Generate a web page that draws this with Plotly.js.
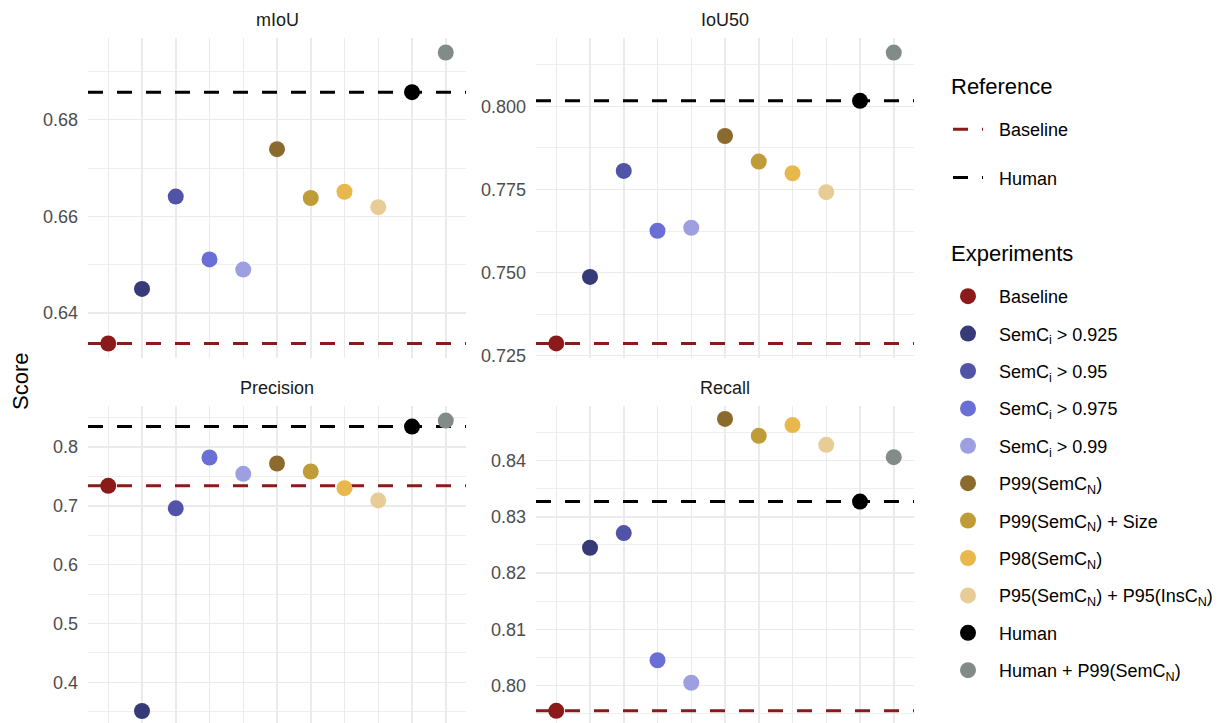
<!DOCTYPE html>
<html><head><meta charset="utf-8">
<script src="https://cdn.plot.ly/plotly-3.0.1.min.js"></script>
<style>html,body{margin:0;padding:0;background:#fff}</style>
</head><body><div id="chart" style="width:1225px;height:723px"></div>
<script>
const experiments = [
  "Baseline",
  "SemC<sub>i</sub> > 0.925",
  "SemC<sub>i</sub> > 0.95",
  "SemC<sub>i</sub> > 0.975",
  "SemC<sub>i</sub> > 0.99",
  "P99(SemC<sub>N</sub>)",
  "P99(SemC<sub>N</sub>) + Size",
  "P98(SemC<sub>N</sub>)",
  "P95(SemC<sub>N</sub>) + P95(InsC<sub>N</sub>)",
  "Human",
  "Human + P99(SemC<sub>N</sub>)"
];
const colors = ["#8b1a1a","#363a78","#5053a6","#6a6fd6","#9d9fe0","#8b6a2e","#c09c38","#e9b84c","#e8cc96","#000000","#838b88"];
const metrics = ["mIoU","IoU50","Precision","Recall"];
const mIoU      = [0.6337,0.6450,0.6641,0.6511,0.6490,0.6739,0.6638,0.6651,0.6619,0.6857,0.6939];
const IoU50     = [0.7287,0.7487,0.7806,0.7626,0.7635,0.7911,0.7834,0.7799,0.7742,0.8017,0.8162];
const Precision = [0.7338,0.3513,0.6956,0.7820,0.7542,0.7718,0.7582,0.7299,0.7090,0.8346,0.8448];
const Recall    = [0.7955,0.8245,0.8271,0.8045,0.8005,0.8474,0.8444,0.8463,0.8428,0.8327,0.8406];
const refNames  = ["Baseline","Human"];
const refColors = ["#8b1a1a","#000000"];
const refBaseline = [0.6337,0.7287,0.7338,0.7955];
const refHuman    = [0.6857,0.8017,0.8346,0.8327];
const tickFormats = [".2f",".3f",".1f",".2f"];
const dticks = [0.02,0.025,0.1,0.01];
const yRanges = [[0.6307,0.6969],[0.7243,0.8206],[0.3309,0.8695],[0.79334,0.8497]];

const series = [mIoU, IoU50, Precision, Recall];
const positions = experiments.map((_, i) => i + 1);
const xRange = [0.4, experiments.length + 0.6];
const W = 1225, H = 723;
const xDom = [[88/W, 466/W],[536/W, 914/W]];
const yDom = [[1-358/H, 1-38/H],[0, 1-406/H]];
const font = "Liberation Sans, Arial, sans-serif";
const dash = "15px,14px";

const traces = [];
const layout = {
  width: W, height: H,
  margin: {l:0,r:0,t:0,b:0},
  paper_bgcolor: "#fff", plot_bgcolor: "#fff",
  font: {family: font, color: "#000"},
  showlegend: true,
  annotations: []
};

for (let p = 0; p < 4; p++) {
  const sfx = p === 0 ? "" : String(p+1);
  const col = p % 2, row = Math.floor(p/2);
  const dt = dticks[p];
  layout["xaxis"+sfx] = {
    domain: xDom[col], anchor: "y"+sfx, type: "linear",
    range: xRange, tickmode: "array", tickvals: positions, showticklabels: false, ticks: "",
    showgrid: true, gridcolor: "#ebebeb", gridwidth: 1.5, zeroline: false, showline: false, fixedrange: true
  };
  layout["yaxis"+sfx] = {
    domain: yDom[row], anchor: "x"+sfx, range: yRanges[p],
    tick0: 0, dtick: dt, tickformat: tickFormats[p], ticks: "",
    ticklabelstandoff: 9,
    tickfont: {family: font, size: 18, color: "#4d4d4d"},
    showgrid: true, gridcolor: "#ebebeb", gridwidth: 1.5, zeroline: false, showline: false,
    minor: {tick0: 0, dtick: dt/2, showgrid: true, gridcolor: "#ebebeb", gridwidth: 0.8, ticks: ""},
    fixedrange: true
  };
  // reference lines (drawn before points)
  [refBaseline[p], refHuman[p]].forEach((v, k) => {
    traces.push({
      type: "scatter", mode: "lines", x: xRange, y: [v, v],
      xaxis: "x"+sfx, yaxis: "y"+sfx, showlegend: false, cliponaxis: true,
      line: {color: refColors[k], width: 3, dash: dash}, hoverinfo: "skip"
    });
  });
  layout.annotations.push({
    text: metrics[p], xref: "paper", yref: "paper",
    x: (xDom[col][0]+xDom[col][1])/2, y: 1 - (row === 0 ? 20 : 388)/H,
    xanchor: "center", yanchor: "middle", showarrow: false,
    font: {family: font, size: 18, color: "#1a1a1a"}
  });
}
for (let p = 0; p < 4; p++) {
  const sfx = p === 0 ? "" : String(p+1);
  experiments.forEach((name, i) => {
    traces.push({
      type: "scatter", mode: "markers",
      x: [positions[i]], y: [series[p][i]],
      xaxis: "x"+sfx, yaxis: "y"+sfx,
      name: name, legend: "legend2", legendgroup: "e"+i,
      showlegend: p === 0, cliponaxis: false,
      marker: {color: colors[i], size: 16, line: {width: 0}},
      hoverinfo: "skip"
    });
  });
}

// legend-only reference traces (key mimics a dashed segment)
refNames.forEach((n, k) => {
  traces.push({
    type: "scatter", mode: "lines", x: [null], y: [null],
    xaxis: "x", yaxis: "y",
    name: n, legend: "legend", legendgroup: "r"+k,
    line: {color: refColors[k], width: 3, dash: "0px,11px,15px,14px,1px,40px"}, hoverinfo: "skip"
  });
});

layout.annotations.push({
  text: "Score", xref: "paper", yref: "paper", x: 20/W, y: 1-382/H,
  xanchor: "center", yanchor: "middle", textangle: -90, showarrow: false,
  font: {family: font, size: 22, color: "#000"}
});
[["Reference", 86], ["Experiments", 254]].forEach(([t, y]) => {
  layout.annotations.push({
    text: t, xref: "paper", yref: "paper", x: 949/W, y: 1-y/H,
    xanchor: "left", yanchor: "middle", showarrow: false,
    font: {family: font, size: 22, color: "#000"}
  });
});

layout.legend = {
  x: 937/W, xanchor: "left", y: 1-111/H, yanchor: "top",
  font: {family: font, size: 18, color: "#000"},
  traceorder: "grouped", tracegroupgap: 22, bgcolor: "rgba(0,0,0,0)", itemwidth: 52
};
layout.legend2 = {
  x: 937/W, xanchor: "left", y: 1-278/H, yanchor: "top",
  font: {family: font, size: 18, color: "#000"},
  traceorder: "grouped", tracegroupgap: 11, bgcolor: "rgba(0,0,0,0)", itemwidth: 52
};

Plotly.newPlot("chart", traces, layout, {displayModeBar: false, staticPlot: true});
</script></body></html>
